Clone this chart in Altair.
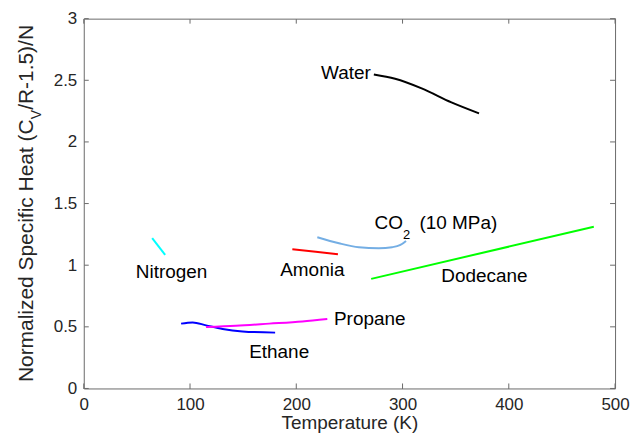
import altair as alt
import pandas as pd

# ---- data ----
water_T = [273, 293, 318, 346, 372]
water_C = [2.547, 2.512, 2.434, 2.321, 2.232]
nitrogen_T = [64.4, 76.6]
nitrogen_C = [1.219, 1.084]
amonia_T = [196.3, 218.3, 239.2]
amonia_C = [1.130, 1.110, 1.089]
co2_T = [219.8, 240.2, 258.9, 277.7, 290.2, 298.0, 303.3]
co2_C = [1.227, 1.178, 1.146, 1.138, 1.146, 1.164, 1.197]
dodecane_T = [270.5, 480.0]
dodecane_C = [0.889, 1.312]
ethane_T = [91.6, 102.5, 115.1, 130.7, 149.4, 180.1]
ethane_C = [0.526, 0.536, 0.512, 0.483, 0.463, 0.453]
propane_T = [115.1, 143.2, 174.5, 205.7, 229.2]
propane_C = [0.499, 0.509, 0.526, 0.544, 0.564]

series_names = ["Water", "Nitrogen", "Amonia", "CO2", "Dodecane", "Ethane", "Propane"]
series_colors = ["#000000", "#00ffff", "#ff0000", "#74aee4", "#00ff00", "#0000ff", "#ff00ff"]

x_ticks = [0, 100, 200, 300, 400, 500]
y_ticks = [0, 0.5, 1, 1.5, 2, 2.5, 3]

# annotations (anchor in data coordinates)
center_labels = ["Nitrogen", "Amonia", "Dodecane", "Ethane"]
center_x = [82.6, 215.1, 377.1, 183.9]
center_y = [0.948, 0.957, 0.914, 0.297]
left_labels = ["CO", "(10 MPa)", "Propane"]
left_x = [273.6, 315.9, 235.5]
left_y = [1.340, 1.340, 0.564]
right_labels = ["Water"]
right_x = [270.2]
right_y = [2.563]
sub_labels = ["2"]
sub_x = [300.5]
sub_y = [1.245]

# ---- build tables ----
pairs = [(water_T, water_C), (nitrogen_T, nitrogen_C), (amonia_T, amonia_C),
         (co2_T, co2_C), (dodecane_T, dodecane_C), (ethane_T, ethane_C),
         (propane_T, propane_C)]
rows = []
for name, (ts, cs) in zip(series_names, pairs):
    for i, (t, c) in enumerate(zip(ts, cs)):
        rows.append({"series": name, "T": t, "C": c, "i": i})
df = pd.DataFrame(rows)

W, H = 533, 371
FONT = "Liberation Sans"
GREY = "#262626"
AXIS_GREY = "#6a6a6a"
xs = alt.Scale(domain=[0, 500], nice=False)
ys = alt.Scale(domain=[0, 3], nice=False)

lines = alt.Chart(df).mark_line(strokeWidth=2, interpolate="monotone").encode(
    x=alt.X("T:Q", scale=xs, axis=alt.Axis(values=x_ticks, ticks=False, grid=False,
                                            domain=True, domainColor=AXIS_GREY, domainWidth=1,
                                            labelPadding=8, labelFontSize=17, labelColor=GREY,
                                            labelFont=FONT, labelFlush=False, title="Temperature (K)",
                                            titleFont=FONT, titleFontSize=19, titleFontWeight="normal",
                                            titleColor=GREY, titlePadding=1)),
    y=alt.Y("C:Q", scale=ys, axis=alt.Axis(values=y_ticks, ticks=False, grid=False,
                                            domain=True, domainColor=AXIS_GREY, domainWidth=1,
                                            labelPadding=7, labelFontSize=17, labelColor=GREY,
                                            labelFont=FONT, labelFlush=False, title=None,
                                            labelExpr="format(datum.value, '~g')")),
    color=alt.Color("series:N", scale=alt.Scale(domain=series_names, range=series_colors), legend=None),
    detail="series:N",
    order="i:Q",
)

xt = pd.DataFrame({"v": x_ticks})
yt = pd.DataFrame({"v": y_ticks})
TL = 5
xb = alt.Chart(xt).mark_rule(stroke=AXIS_GREY, strokeWidth=1).encode(
    x=alt.X("v:Q", scale=xs), y=alt.value(H + 0.5), y2=alt.value(H - TL))
xtop = alt.Chart(xt).mark_rule(stroke=AXIS_GREY, strokeWidth=1).encode(
    x=alt.X("v:Q", scale=xs), y=alt.value(0.5), y2=alt.value(TL))
yl = alt.Chart(yt).mark_rule(stroke=AXIS_GREY, strokeWidth=1).encode(
    y=alt.Y("v:Q", scale=ys), x=alt.value(0.5), x2=alt.value(TL))
yr = alt.Chart(yt).mark_rule(stroke=AXIS_GREY, strokeWidth=1).encode(
    y=alt.Y("v:Q", scale=ys), x=alt.value(W + 0.5), x2=alt.value(W - TL))

# top and right frame edges, spanning the axis ranges
top_df = pd.DataFrame({"v": [x_ticks[0]], "v2": [x_ticks[-1]]})
right_df = pd.DataFrame({"v": [y_ticks[0]], "v2": [y_ticks[-1]]})
top_edge = alt.Chart(top_df).mark_rule(stroke=AXIS_GREY, strokeWidth=1).encode(
    x=alt.X("v:Q", scale=xs), x2="v2:Q", y=alt.value(0.5))
right_edge = alt.Chart(right_df).mark_rule(stroke=AXIS_GREY, strokeWidth=1).encode(
    y=alt.Y("v:Q", scale=ys), y2="v2:Q", x=alt.value(W + 0.5))


def text_layer(labels, xv, yv, align, size):
    d = pd.DataFrame({"x": xv, "y": yv, "t": labels})
    return alt.Chart(d).mark_text(align=align, baseline="middle", font=FONT, fontSize=size,
                                  color="#000000").encode(
        x=alt.X("x:Q", scale=xs), y=alt.Y("y:Q", scale=ys), text="t:N")


t_center = text_layer(center_labels, center_x, center_y, "center", 19)
t_left = text_layer(left_labels, left_x, left_y, "left", 19)
t_right = text_layer(right_labels, right_x, right_y, "right", 19)
t_sub = text_layer(sub_labels, sub_x, sub_y, "left", 13)

# y-axis title with subscript, built from three rotated texts
ytitle_parts = ["Normalized Specific Heat (C", "V", "/R-1.5)/N"]
anchor_y = 101
yt1 = alt.Chart(pd.DataFrame({"t": [ytitle_parts[0]]})).mark_text(
    angle=270, align="right", baseline="alphabetic", font=FONT, fontSize=21, color=GREY).encode(
    x=alt.value(-51), y=alt.value(anchor_y), text="t:N")
yt2 = alt.Chart(pd.DataFrame({"t": [ytitle_parts[1]]})).mark_text(
    angle=270, align="left", baseline="alphabetic", font=FONT, fontSize=14, color=GREY).encode(
    x=alt.value(-43), y=alt.value(anchor_y), text="t:N")
yt3 = alt.Chart(pd.DataFrame({"t": [ytitle_parts[2]]})).mark_text(
    angle=270, align="left", baseline="alphabetic", font=FONT, fontSize=21, color=GREY).encode(
    x=alt.value(-51), y=alt.value(anchor_y - 9.5), text="t:N")

chart = alt.layer(lines, xb, xtop, yl, yr, top_edge, right_edge,
                  t_center, t_left, t_right, t_sub, yt1, yt2, yt3).properties(
    width=W, height=H,
    autosize=alt.AutoSizeParams(type="none"),
    padding={"left": 76, "top": 10, "right": 16, "bottom": 47},
    background="white",
).configure_view(stroke=None)

chart.save("out.html", embed_options={"renderer": "svg", "actions": False})
